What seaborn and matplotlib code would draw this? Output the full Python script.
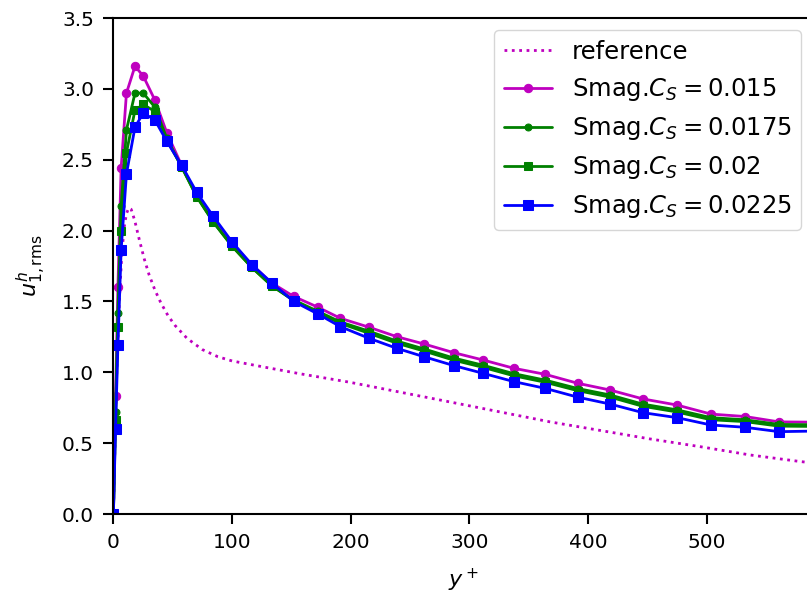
import numpy as np
import pandas as pd
import seaborn as sns
import matplotlib
matplotlib.use("Agg")
import matplotlib.pyplot as plt

# wall-normal positions of the LES points (y+)
yplus = [0, 1.8, 3.8, 6.5, 11, 18.2, 25.2, 35, 45, 57.5, 70.2, 84.2, 100, 116.6,
         133.5, 152, 172.4, 191.3, 215.4, 238.9, 261.7, 287, 311.4, 337.6, 363.7,
         391.5, 418.5, 446.3, 474.9, 503.6, 532.2, 560.9, 590]

# u_rms for the Smagorinsky runs
cs_0150 = [0, 0.83, 1.60, 2.44, 2.97, 3.16, 3.09, 2.92, 2.69, 2.46, 2.25, 2.08, 1.91,
           1.76, 1.63, 1.535, 1.459, 1.381, 1.318, 1.251, 1.20, 1.138, 1.087, 1.028,
           0.986, 0.922, 0.875, 0.812, 0.769, 0.705, 0.688, 0.65, 0.648]
cs_0175 = [0, 0.72, 1.42, 2.17, 2.71, 2.97, 2.97, 2.87, 2.65, 2.45, 2.24, 2.06, 1.89,
           1.74, 1.61, 1.51, 1.43, 1.355, 1.29, 1.22, 1.165, 1.10, 1.05, 0.99,
           0.945, 0.885, 0.84, 0.775, 0.735, 0.68, 0.665, 0.632, 0.63]
cs_0200 = [0, 0.66, 1.32, 2.00, 2.55, 2.85, 2.89, 2.84, 2.64, 2.45, 2.24, 2.06, 1.89,
           1.74, 1.61, 1.505, 1.42, 1.345, 1.275, 1.205, 1.15, 1.085, 1.035, 0.975,
           0.93, 0.87, 0.825, 0.76, 0.72, 0.665, 0.652, 0.62, 0.618]
cs_0225 = [0, 0.60, 1.19, 1.86, 2.40, 2.73, 2.83, 2.78, 2.63, 2.46, 2.27, 2.10, 1.92,
           1.76, 1.63, 1.50, 1.411, 1.322, 1.24, 1.169, 1.11, 1.047, 0.993, 0.934,
           0.887, 0.824, 0.776, 0.715, 0.680, 0.628, 0.612, 0.581, 0.585]

# reference (DNS) profile
ref_y = [0, 1, 2, 3, 5, 7, 9, 11, 13, 15, 18, 22, 26, 30, 35, 40, 46, 52, 62, 75,
         88, 100, 125, 157, 199, 241.5, 284, 326, 368, 410, 452, 494.6, 537, 579, 590]
ref_u = [0, 0.38, 0.75, 1.05, 1.5, 1.82, 2.02, 2.12, 2.16, 2.15, 2.07, 1.93, 1.80,
         1.69, 1.58, 1.49, 1.40, 1.33, 1.24, 1.16, 1.11, 1.08, 1.04, 0.99, 0.93,
         0.86, 0.79, 0.72, 0.65, 0.59, 0.53, 0.475, 0.416, 0.37, 0.36]

sns.set_style("ticks")
plt.rcParams['font.family'] = ['DejaVu Sans']
plt.rcParams['mathtext.fontset'] = 'dejavusans'
for k in ['text.color', 'axes.labelcolor', 'xtick.color', 'ytick.color', 'axes.edgecolor']:
    plt.rcParams[k] = 'black'

fig = plt.figure(figsize=(8.07, 5.99), dpi=100)
# axes runs a little past the right edge of the picture (right spine cut off)
ax = fig.add_axes([113.4/807, 85/599, (813.5-113.4)/807, (514-18)/599])

lw = 2.0
sns.lineplot(x=ref_y, y=ref_u, color='m', linestyle=':', linewidth=2,
             label='reference', ax=ax, sort=False)
sns.lineplot(x=yplus, y=cs_0150, color='m', marker='o', markersize=6, linewidth=lw,
             markeredgecolor='m', label=r'Smag.$C_S=0.015$', ax=ax, sort=False)
sns.lineplot(x=yplus, y=cs_0175, color='g', marker='o', markersize=5, linewidth=lw,
             markeredgecolor='g', label=r'Smag.$C_S=0.0175$', ax=ax, sort=False)
sns.lineplot(x=yplus, y=cs_0200, color='g', marker='s', markersize=6, linewidth=lw,
             markeredgecolor='g', label=r'Smag.$C_S=0.02$', ax=ax, sort=False)
sns.lineplot(x=yplus, y=cs_0225, color='b', marker='s', markersize=6.5, linewidth=lw,
             markeredgecolor='b', label=r'Smag.$C_S=0.0225$', ax=ax, sort=False)

ax.set_xlim(0, 590)
ax.set_ylim(0, 3.5)
ax.set_xticks([0, 100, 200, 300, 400, 500])
ax.set_yticks(np.arange(0, 3.51, 0.5))
ax.set_xlabel(r'$y^+$', fontsize=16, labelpad=10)
ax.set_ylabel(r'$u^h_{1,\mathrm{rms}}$', fontsize=16, labelpad=10)
ax.tick_params(labelsize=14.5, width=1.5, length=7, pad=7, direction='out')
for s in ax.spines.values():
    s.set_linewidth(1.5)
    s.set_visible(True)

ax.legend(loc='upper right', fontsize=17.5)

fig.savefig('out.png', dpi=100)
